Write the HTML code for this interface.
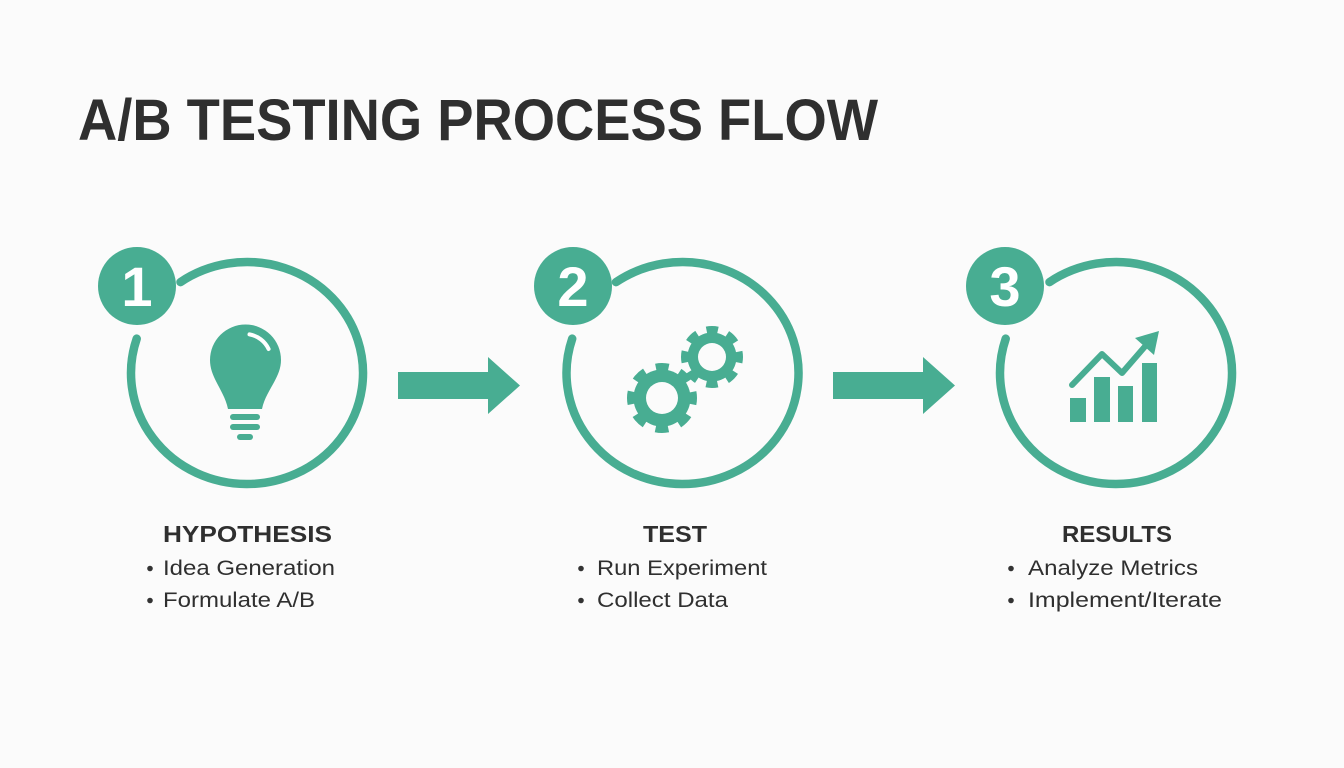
<!DOCTYPE html>
<html>
<head>
<meta charset="utf-8">
<style>
  html,body{margin:0;padding:0;background:#fbfbfb;}
  svg{display:block;}
  .t{font-family:"Liberation Sans",sans-serif;fill:#2f2f2f;}
</style>
</head>
<body>
<svg width="1344" height="768" viewBox="0 0 1344 768" xmlns="http://www.w3.org/2000/svg">
  <rect width="1344" height="768" fill="#fbfbfb"/>

  <!-- Title -->
  <text class="t" x="78" y="140" font-size="58" font-weight="bold" textLength="800" lengthAdjust="spacingAndGlyphs">A/B TESTING PROCESS FLOW</text>

  <g fill="none" stroke="#48ad92" stroke-width="8.5" stroke-linecap="round">
    <path d="M180.5,282.1 A116,111 0 1 1 136.7,338.7"/>
    <path d="M616,282.1 A116,111 0 1 1 572.2,338.7"/>
    <path d="M1049.5,282.1 A116,111 0 1 1 1005.7,338.7"/>
  </g>

  <!-- Badges -->
  <g fill="#48ad92">
    <circle cx="137" cy="286" r="39"/>
    <circle cx="573" cy="286" r="39"/>
    <circle cx="1005" cy="286" r="39"/>
  </g>
  <g font-family="Liberation Sans, sans-serif" font-weight="bold" font-size="56" fill="#ffffff" text-anchor="middle">
    <text x="137" y="306">1</text>
    <text x="573" y="306">2</text>
    <text x="1005" y="306">3</text>
  </g>

  <!-- Arrows -->
  <g fill="#48ad92">
    <polygon points="398,372 488,372 488,357 520,385.5 488,414 488,399 398,399"/>
    <polygon points="833,372 923,372 923,357 955,385.5 923,414 923,399 833,399"/>
  </g>

  <!-- Bulb -->
  <g fill="#48ad92">
    <path d="M210,360 A35.5,35.5 0 1 1 281,360 C281,378 266,390 262,409 L228,409 C224,390 210,378 210,360 Z"/>
    <rect x="230" y="414" width="30" height="6" rx="3"/>
    <rect x="230" y="424" width="30" height="6" rx="3"/>
    <rect x="237" y="434" width="16" height="6" rx="3"/>
  </g>
  <path d="M249.5,334.4 A26,26 0 0 1 268.6,349" fill="none" stroke="#ffffff" stroke-width="4" stroke-linecap="round"/>

  <!-- Gears -->
  <g>
    <circle cx="662" cy="398" r="28.5" fill="#48ad92"/>
    <circle cx="662" cy="398" r="31.5" fill="none" stroke="#48ad92" stroke-width="7" stroke-dasharray="13 11.74" stroke-dashoffset="6.5"/>
    <circle cx="662" cy="398" r="16" fill="#fbfbfb"/>

    <circle cx="712" cy="357" r="24.5" fill="#48ad92"/>
    <circle cx="712" cy="357" r="27.5" fill="none" stroke="#48ad92" stroke-width="7" stroke-dasharray="11.5 10.1" stroke-dashoffset="5.75"/>
    <circle cx="712" cy="357" r="14" fill="#fbfbfb"/>
  </g>

  <!-- Chart -->
  <g fill="#48ad92">
    <rect x="1070" y="398" width="16" height="24"/>
    <rect x="1094" y="377" width="16" height="45"/>
    <rect x="1118" y="386" width="15" height="36"/>
    <rect x="1142" y="363" width="15" height="59"/>
    <polygon points="1135,338 1159,331 1154,355"/>
  </g>
  <polyline points="1072,385 1102,354 1122,373 1148,343" fill="none" stroke="#48ad92" stroke-width="6" stroke-linecap="round" stroke-linejoin="round"/>

  <!-- Labels -->
  <g class="t" font-weight="bold" font-size="23">
    <text class="t" x="163" y="542" textLength="169" lengthAdjust="spacingAndGlyphs">HYPOTHESIS</text>
    <text class="t" x="643" y="542" textLength="64" lengthAdjust="spacingAndGlyphs">TEST</text>
    <text class="t" x="1062" y="542" textLength="110" lengthAdjust="spacingAndGlyphs">RESULTS</text>
  </g>

  <g fill="#333333">
    <circle cx="150" cy="568.5" r="2.8"/>
    <circle cx="150" cy="600.5" r="2.8"/>
    <circle cx="581" cy="568.5" r="2.8"/>
    <circle cx="581" cy="600.5" r="2.8"/>
    <circle cx="1011" cy="568.5" r="2.8"/>
    <circle cx="1011" cy="600.5" r="2.8"/>
  </g>
  <g font-size="21">
    <text class="t" x="163" y="575" textLength="172" lengthAdjust="spacingAndGlyphs">Idea Generation</text>
    <text class="t" x="163" y="607" textLength="152" lengthAdjust="spacingAndGlyphs">Formulate A/B</text>
    <text class="t" x="597" y="575" textLength="170" lengthAdjust="spacingAndGlyphs">Run Experiment</text>
    <text class="t" x="597" y="607" textLength="131" lengthAdjust="spacingAndGlyphs">Collect Data</text>
    <text class="t" x="1028" y="575" textLength="170" lengthAdjust="spacingAndGlyphs">Analyze Metrics</text>
    <text class="t" x="1028" y="607" textLength="194" lengthAdjust="spacingAndGlyphs">Implement/Iterate</text>
  </g>
</svg>
</body>
</html>
